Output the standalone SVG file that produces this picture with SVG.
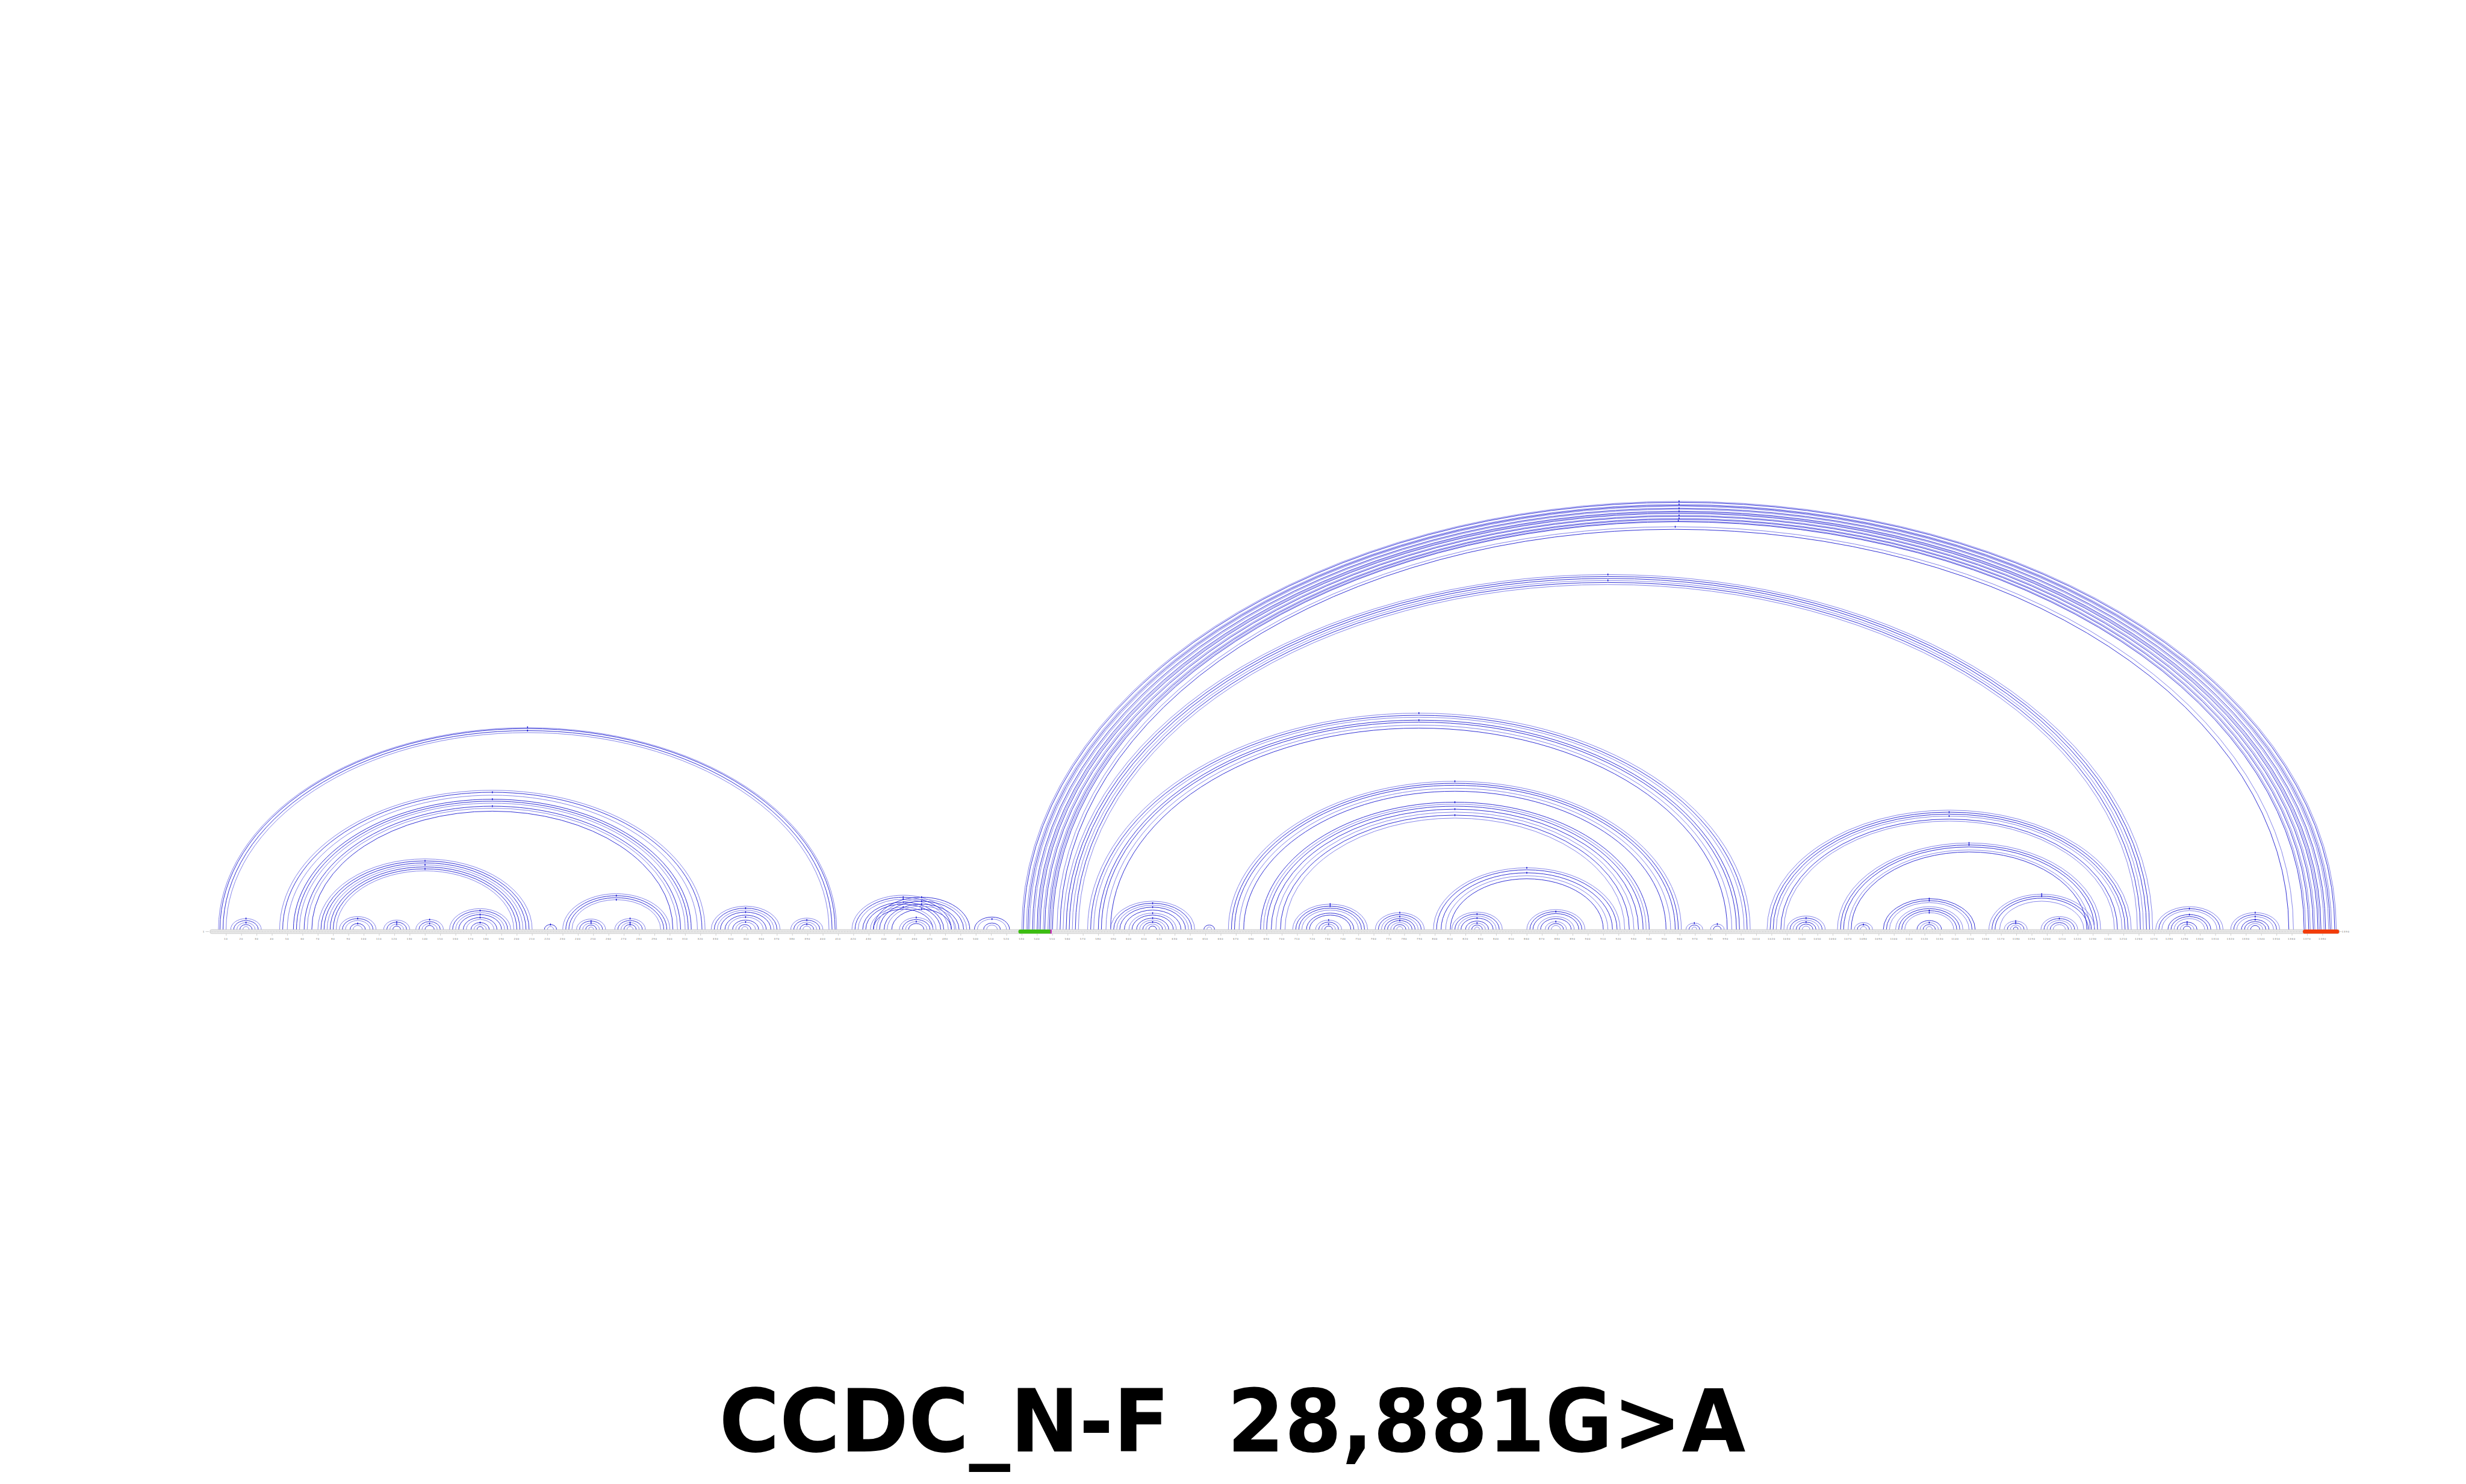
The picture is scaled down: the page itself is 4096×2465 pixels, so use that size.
<svg xmlns="http://www.w3.org/2000/svg" width="4096" height="2465" viewBox="0 0 4096 2465">
<style>
.d{fill:none;stroke:#2f2fd4;stroke-width:1;vector-effect:non-scaling-stroke}
.l{fill:none;stroke:#8585ea;stroke-width:1;vector-effect:non-scaling-stroke}
.m{fill:none;stroke:#1010d0;stroke-width:1.4;vector-effect:non-scaling-stroke}
.t{font-family:"Liberation Sans",Arial,sans-serif;font-size:3.8px;fill:#555;text-anchor:middle;letter-spacing:1.1px}
.title{font-family:"DejaVu Sans","Liberation Sans",sans-serif;font-weight:bold;font-size:144px;fill:#000}
</style>
<defs>
<pattern id="nt" patternUnits="userSpaceOnUse" x="351.39" y="1544" width="2.5417" height="6.8">
<circle cx="1.27" cy="3.4" r="3.1" fill="none" stroke="#c2c2c2" stroke-width="0.35"/>
<line x1="0.9" y1="2.2" x2="1.6" y2="4.6" stroke="#8a8a8a" stroke-width="0.35"/>
</pattern>
<pattern id="tk" patternUnits="userSpaceOnUse" x="375.29" y="1551" width="25.417" height="4">
<rect x="0" y="0" width="0.5" height="4" fill="#a0a0a0"/>
</pattern>
</defs>
<rect x="0" y="0" width="4096" height="2465" fill="#fff"/>
<g id="connectors" transform="translate(350.12 1544) scale(2.5417 1)">
<g id="h-L1">
<path class="l" d="M5 0A202 335.4 0 0 1 409 0"/>
<path class="d" d="M6 0A201 333.8 0 0 1 408 0"/>
<path class="d" d="M8 0A199 330.4 0 0 1 406 0"/>
<path class="l" d="M10 0A197 327.1 0 0 1 404 0"/>
<path class="m" d="M207 -337.4v3M207 -331.9v3"/>
</g>
<g id="h-1">
<path class="l" d="M13 0A10 18.2 0 0 1 33 0"/>
<path class="d" d="M15 0A8 14.9 0 0 1 31 0"/>
<path class="l" d="M17 0A6 11.6 0 0 1 29 0"/>
<path class="d" d="M19 0A4 8.3 0 0 1 27 0"/>
<path class="l" d="M21 0A2 5 0 0 1 25 0"/>
<path class="m" d="M23 -19.7v3M23 -13.1v3"/>
</g>
<g id="h-L2">
<path class="l" d="M45 0A139 231.3 0 0 1 323 0"/>
<path class="d" d="M47 0A137 228 0 0 1 321 0"/>
<path class="l" d="M50 0A134 223.1 0 0 1 318 0"/>
<path class="d" d="M54 0A130 216.5 0 0 1 314 0"/>
<path class="d" d="M56 0A128 213.2 0 0 1 312 0"/>
<path class="l" d="M58 0A126 209.9 0 0 1 310 0"/>
<path class="d" d="M61 0A123 204.9 0 0 1 307 0"/>
<path class="l" d="M63 0A121 201.6 0 0 1 305 0"/>
<path class="d" d="M66 0A118 196.6 0 0 1 302 0"/>
<path class="m" d="M184 -229.5v3M184 -218v3M184 -206.4v3"/>
</g>
<g id="h-L3">
<path class="l" d="M70 0A70 117.3 0 0 1 210 0"/>
<path class="d" d="M72 0A68 114 0 0 1 208 0"/>
<path class="d" d="M74 0A66 110.7 0 0 1 206 0"/>
<path class="l" d="M76 0A64 107.4 0 0 1 204 0"/>
<path class="d" d="M78 0A62 104.1 0 0 1 202 0"/>
<path class="d" d="M80 0A60 100.8 0 0 1 200 0"/>
<path class="l" d="M82 0A58 97.5 0 0 1 198 0"/>
<path class="m" d="M140 -115.5v3M140 -108.9v3M140 -102.3v3"/>
</g>
<g id="h-2">
<path class="l" d="M84 0A12 21.5 0 0 1 108 0"/>
<path class="d" d="M86 0A10 18.2 0 0 1 106 0"/>
<path class="l" d="M88 0A8 14.9 0 0 1 104 0"/>
<path class="d" d="M91 0A5 10 0 0 1 101 0"/>
<path class="l" d="M93 0A3 6.7 0 0 1 99 0"/>
<path class="m" d="M96 -19.7v3M96 -11.5v3"/>
</g>
<g id="h-3">
<path class="l" d="M113 0A8.5 15.7 0 0 1 130 0"/>
<path class="d" d="M115 0A6.5 12.4 0 0 1 128 0"/>
<path class="l" d="M117 0A4.5 9.1 0 0 1 126 0"/>
<path class="d" d="M119 0A2.5 5.8 0 0 1 124 0"/>
<path class="m" d="M121.5 -13.9v3M121.5 -10.6v3"/>
</g>
<g id="h-4">
<path class="l" d="M134 0A9 16.6 0 0 1 152 0"/>
<path class="d" d="M136 0A7 13.3 0 0 1 150 0"/>
<path class="l" d="M138 0A5 10 0 0 1 148 0"/>
<path class="d" d="M140 0A3 6.7 0 0 1 146 0"/>
<path class="m" d="M143 -18.1v3M143 -11.5v3"/>
</g>
<g id="h-5">
<path class="l" d="M156 0A20 34.7 0 0 1 196 0"/>
<path class="d" d="M158 0A18 31.4 0 0 1 194 0"/>
<path class="l" d="M160 0A16 28.1 0 0 1 192 0"/>
<path class="d" d="M162 0A14 24.8 0 0 1 190 0"/>
<path class="d" d="M165 0A11 19.9 0 0 1 187 0"/>
<path class="l" d="M167 0A9 16.6 0 0 1 185 0"/>
<path class="d" d="M170 0A6 11.6 0 0 1 182 0"/>
<path class="l" d="M172 0A4 8.3 0 0 1 180 0"/>
<path class="d" d="M174 0A2 5 0 0 1 178 0"/>
<path class="m" d="M176 -32.9v3M176 -26.3v3M176 -21.4v3M176 -13.1v3"/>
</g>
<g id="h-6">
<path class="d" d="M218 0A4 8.3 0 0 1 226 0"/>
<path class="l" d="M220 0A2 5 0 0 1 224 0"/>
<path class="m" d="M222 -9.8v3"/>
</g>
<g id="h-7">
<path class="l" d="M230 0A35 59.5 0 0 1 300 0"/>
<path class="d" d="M232 0A33 56.2 0 0 1 298 0"/>
<path class="d" d="M234 0A31 52.9 0 0 1 296 0"/>
<path class="l" d="M236 0A29 49.6 0 0 1 294 0"/>
<path class="m" d="M265 -57.7v3M265 -51.1v3"/>
</g>
<g id="h-8">
<path class="l" d="M239 0A9.5 17.4 0 0 1 258 0"/>
<path class="d" d="M241 0A7.5 14.1 0 0 1 256 0"/>
<path class="l" d="M243 0A5.5 10.8 0 0 1 254 0"/>
<path class="d" d="M245 0A3.5 7.5 0 0 1 252 0"/>
<path class="l" d="M247 0A1.5 4.2 0 0 1 250 0"/>
<path class="m" d="M248.5 -15.6v3M248.5 -12.3v3"/>
</g>
<g id="h-9">
<path class="l" d="M264 0A10 18.2 0 0 1 284 0"/>
<path class="d" d="M266 0A8 14.9 0 0 1 282 0"/>
<path class="l" d="M268 0A6 11.6 0 0 1 280 0"/>
<path class="d" d="M270 0A4 8.3 0 0 1 278 0"/>
<path class="l" d="M272 0A2 5 0 0 1 276 0"/>
<path class="m" d="M274 -19.7v3M274 -13.1v3M274 -9.8v3"/>
</g>
<g id="h-10">
<path class="l" d="M327 0A22.5 38.9 0 0 1 372 0"/>
<path class="d" d="M329 0A20.5 35.6 0 0 1 370 0"/>
<path class="l" d="M331 0A18.5 32.3 0 0 1 368 0"/>
<path class="d" d="M333 0A16.5 29 0 0 1 366 0"/>
<path class="d" d="M336 0A13.5 24 0 0 1 363 0"/>
<path class="l" d="M338 0A11.5 20.7 0 0 1 361 0"/>
<path class="d" d="M341 0A8.5 15.7 0 0 1 358 0"/>
<path class="l" d="M343 0A6.5 12.4 0 0 1 356 0"/>
<path class="d" d="M345 0A4 8.3 0 0 1 353 0"/>
<path class="l" d="M347 0A2 5 0 0 1 351 0"/>
<path class="m" d="M349.5 -37.1v3M349.5 -30.5v3M349.5 -22.2v3M349.5 -13.9v3"/>
</g>
<g id="h-11">
<path class="l" d="M379 0A10.5 19 0 0 1 400 0"/>
<path class="d" d="M381 0A8.5 15.7 0 0 1 398 0"/>
<path class="l" d="M383 0A6.5 12.4 0 0 1 396 0"/>
<path class="d" d="M385 0A4.5 9.1 0 0 1 394 0"/>
<path class="l" d="M387 0A2.5 5.8 0 0 1 392 0"/>
<path class="m" d="M389.5 -17.2v3M389.5 -10.6v3"/>
</g>
<g id="h-P1">
<path class="l" d="M419 0A33.5 57 0 0 1 486 0"/>
<path class="d" d="M421 0A31.5 53.7 0 0 1 484 0"/>
<path class="l" d="M423 0A29.5 50.4 0 0 1 482 0"/>
<path class="d" d="M426 0A26.5 45.5 0 0 1 479 0"/>
<path class="d" d="M428 0A24.5 42.2 0 0 1 477 0"/>
<path class="l" d="M431 0A21.5 37.2 0 0 1 474 0"/>
<path class="d" d="M433 0A19.5 33.9 0 0 1 472 0"/>
<path class="m" d="M452.5 -55.2v3M452.5 -51.9v3M452.5 -47v3M452.5 -38.7v3"/>
</g>
<g id="h-P2">
<path class="d" d="M433 0A31.5 53.7 0 0 1 496 0"/>
<path class="l" d="M435 0A29.5 50.4 0 0 1 494 0"/>
<path class="d" d="M437 0A27.5 47.1 0 0 1 492 0"/>
<path class="d" d="M440 0A24.5 42.2 0 0 1 489 0"/>
<path class="l" d="M442 0A22.5 38.9 0 0 1 487 0"/>
<path class="d" d="M445 0A19.5 33.9 0 0 1 484 0"/>
<path class="m" d="M464.5 -55.2v3M464.5 -48.6v3M464.5 -43.7v3M464.5 -35.4v3"/>
</g>
<g id="h-12">
<path class="l" d="M450 0A11 19.9 0 0 1 472 0"/>
<path class="d" d="M452 0A9 16.6 0 0 1 470 0"/>
<path class="l" d="M454 0A7 13.3 0 0 1 468 0"/>
<path class="d" d="M456 0A5 10 0 0 1 466 0"/>
<path class="m" d="M461 -21.4v3M461 -14.8v3"/>
</g>
<g id="h-13">
<path class="d" d="M499 0A11.5 20.7 0 0 1 522 0"/>
<path class="l" d="M501 0A9.5 17.4 0 0 1 520 0"/>
<path class="d" d="M505 0A5.5 10.8 0 0 1 516 0"/>
<path class="l" d="M507 0A3.5 7.5 0 0 1 514 0"/>
<path class="m" d="M510.5 -18.9v3"/>
</g>
<g id="h-A">
<path class="l" d="M530 0A429.5 711.2 0 0 1 1389 0"/>
<path class="d" d="M531 0A428.5 709.6 0 0 1 1388 0"/>
<path class="l" d="M533 0A426.5 706.3 0 0 1 1386 0"/>
<path class="d" d="M534 0A425.5 704.6 0 0 1 1385 0"/>
<path class="l" d="M535 0A424.5 703 0 0 1 1384 0"/>
<path class="d" d="M537 0A422.5 699.7 0 0 1 1382 0"/>
<path class="l" d="M538 0A421.5 698 0 0 1 1381 0"/>
<path class="d" d="M540 0A419.5 694.7 0 0 1 1379 0"/>
<path class="l" d="M541 0A418.5 693.1 0 0 1 1378 0"/>
<path class="d" d="M542 0A417.5 691.4 0 0 1 1377 0"/>
<path class="l" d="M544 0A415.5 688.1 0 0 1 1375 0"/>
<path class="d" d="M545 0A414.5 686.5 0 0 1 1374 0"/>
<path class="l" d="M547 0A412.5 683.2 0 0 1 1372 0"/>
<path class="d" d="M548 0A411.5 681.5 0 0 1 1371 0"/>
<path class="l" d="M549 0A410 679 0 0 1 1369 0"/>
<path class="d" d="M550 0A409 677.4 0 0 1 1368 0"/>
<path class="l" d="M553 0A404 669.1 0 0 1 1361 0"/>
<path class="d" d="M555 0A401.5 665 0 0 1 1358 0"/>
<path class="m" d="M959.5 -712.7v3M959.5 -707.8v3M959.5 -701.2v3M959.5 -696.2v3M959.5 -689.6v3M959.5 -684.7v3M959 -680.5v3M957 -670.6v3"/>
</g>
<g id="h-B">
<path class="l" d="M557 0A356 589.8 0 0 1 1269 0"/>
<path class="d" d="M559 0A354 586.5 0 0 1 1267 0"/>
<path class="d" d="M561 0A352 583.2 0 0 1 1265 0"/>
<path class="l" d="M563 0A350 579.9 0 0 1 1263 0"/>
<path class="d" d="M565 0A348 576.6 0 0 1 1261 0"/>
<path class="l" d="M567 0A346 573.3 0 0 1 1259 0"/>
<path class="m" d="M913 -591.3v3M913 -581.4v3"/>
</g>
<g id="h-C">
<path class="l" d="M573 0A216.5 359.4 0 0 1 1006 0"/>
<path class="d" d="M575 0A214.5 356.1 0 0 1 1004 0"/>
<path class="l" d="M577 0A212.5 352.8 0 0 1 1002 0"/>
<path class="d" d="M580 0A209.5 347.8 0 0 1 999 0"/>
<path class="d" d="M582 0A207.5 344.5 0 0 1 997 0"/>
<path class="l" d="M585 0A204.5 339.5 0 0 1 994 0"/>
<path class="d" d="M588 0A201.5 334.6 0 0 1 991 0"/>
<path class="m" d="M789.5 -360.9v3M789.5 -349.3v3"/>
</g>
<g id="h-D">
<path class="l" d="M665 0A148 246.2 0 0 1 961 0"/>
<path class="d" d="M667 0A146 242.9 0 0 1 959 0"/>
<path class="d" d="M669 0A144 239.6 0 0 1 957 0"/>
<path class="l" d="M672 0A141 234.6 0 0 1 954 0"/>
<path class="d" d="M675 0A138 229.7 0 0 1 951 0"/>
<path class="d" d="M686 0A127 211.5 0 0 1 940 0"/>
<path class="l" d="M688 0A125 208.2 0 0 1 938 0"/>
<path class="d" d="M690 0A123 204.9 0 0 1 936 0"/>
<path class="d" d="M693 0A120 199.9 0 0 1 933 0"/>
<path class="l" d="M696 0A117 195 0 0 1 930 0"/>
<path class="d" d="M699 0A114 190 0 0 1 927 0"/>
<path class="l" d="M702 0A111 185.1 0 0 1 924 0"/>
<path class="m" d="M813 -247.7v3M813 -213v3M813 -201.4v3M813 -191.5v3"/>
</g>
<g id="h-E">
<path class="l" d="M799 0A61 102.5 0 0 1 921 0"/>
<path class="d" d="M801 0A59 99.2 0 0 1 919 0"/>
<path class="d" d="M804 0A56 94.2 0 0 1 916 0"/>
<path class="l" d="M807 0A53 89.3 0 0 1 913 0"/>
<path class="d" d="M810 0A50 84.3 0 0 1 910 0"/>
<path class="m" d="M860 -104v3M860 -95.7v3"/>
</g>
<g id="h-14">
<path class="l" d="M588 0A27.5 47.1 0 0 1 643 0"/>
<path class="d" d="M590 0A25.5 43.8 0 0 1 641 0"/>
<path class="l" d="M592 0A23.5 40.5 0 0 1 639 0"/>
<path class="d" d="M594 0A21.5 37.2 0 0 1 637 0"/>
<path class="d" d="M597 0A18.5 32.3 0 0 1 634 0"/>
<path class="l" d="M600 0A15.5 27.3 0 0 1 631 0"/>
<path class="d" d="M602 0A13.5 24 0 0 1 629 0"/>
<path class="d" d="M605 0A10.5 19 0 0 1 626 0"/>
<path class="l" d="M607 0A8.5 15.7 0 0 1 624 0"/>
<path class="d" d="M609 0A6.5 12.4 0 0 1 622 0"/>
<path class="l" d="M611 0A4.5 9.1 0 0 1 620 0"/>
<path class="d" d="M613 0A2.5 5.8 0 0 1 618 0"/>
<path class="m" d="M615.5 -45.3v3M615.5 -38.7v3M615.5 -28.8v3M615.5 -20.5v3M615.5 -13.9v3"/>
</g>
<g id="h-15">
<path class="d" d="M649 0A3.5 7.5 0 0 1 656 0"/>
<path class="l" d="M651 0A1.5 4.2 0 0 1 654 0"/>
</g>
<g id="h-16">
<path class="l" d="M707 0A24.5 42.2 0 0 1 756 0"/>
<path class="d" d="M709 0A22.5 38.9 0 0 1 754 0"/>
<path class="d" d="M711 0A20.5 35.6 0 0 1 752 0"/>
<path class="l" d="M713 0A18.5 32.3 0 0 1 750 0"/>
<path class="d" d="M716 0A15.5 27.3 0 0 1 747 0"/>
<path class="d" d="M718 0A13.5 24 0 0 1 745 0"/>
<path class="l" d="M722 0A8.5 15.7 0 0 1 739 0"/>
<path class="d" d="M724 0A6.5 12.4 0 0 1 737 0"/>
<path class="l" d="M726 0A4.5 9.1 0 0 1 735 0"/>
<path class="d" d="M728 0A2.5 5.8 0 0 1 733 0"/>
<path class="m" d="M731.5 -43.7v3M731.5 -40.4v3M730.5 -17.2v3M730.5 -10.6v3"/>
</g>
<g id="h-17">
<path class="l" d="M761 0A16 28.1 0 0 1 793 0"/>
<path class="d" d="M763 0A14 24.8 0 0 1 791 0"/>
<path class="l" d="M765 0A12 21.5 0 0 1 789 0"/>
<path class="d" d="M767 0A10 18.2 0 0 1 787 0"/>
<path class="d" d="M769 0A8 14.9 0 0 1 785 0"/>
<path class="l" d="M771 0A6 11.6 0 0 1 783 0"/>
<path class="d" d="M773 0A4 8.3 0 0 1 781 0"/>
<path class="l" d="M775 0A2 5 0 0 1 779 0"/>
<path class="m" d="M777 -29.6v3M777 -23v3M777 -16.4v3"/>
</g>
<g id="h-18">
<path class="l" d="M811 0A16.5 29 0 0 1 844 0"/>
<path class="d" d="M813 0A14.5 25.7 0 0 1 842 0"/>
<path class="l" d="M815 0A12.5 22.4 0 0 1 840 0"/>
<path class="d" d="M817 0A10.5 19 0 0 1 838 0"/>
<path class="d" d="M820 0A7.5 14.1 0 0 1 835 0"/>
<path class="l" d="M822 0A5.5 10.8 0 0 1 833 0"/>
<path class="d" d="M824 0A3.5 7.5 0 0 1 831 0"/>
<path class="l" d="M826 0A1.5 4.2 0 0 1 829 0"/>
<path class="m" d="M827.5 -27.2v3M827.5 -20.5v3M827.5 -12.3v3"/>
</g>
<g id="h-19">
<path class="l" d="M860 0A19 33.1 0 0 1 898 0"/>
<path class="d" d="M862 0A17 29.8 0 0 1 896 0"/>
<path class="d" d="M864 0A15 26.5 0 0 1 894 0"/>
<path class="l" d="M867 0A12 21.5 0 0 1 891 0"/>
<path class="d" d="M869 0A10 18.2 0 0 1 889 0"/>
<path class="l" d="M872 0A7 13.3 0 0 1 886 0"/>
<path class="d" d="M874 0A5 10 0 0 1 884 0"/>
<path class="l" d="M876 0A3 6.7 0 0 1 882 0"/>
<path class="m" d="M879 -31.3v3M879 -14.8v3"/>
</g>
<g id="h-20">
<path class="l" d="M964 0A5.5 10.8 0 0 1 975 0"/>
<path class="d" d="M966 0A3.5 7.5 0 0 1 973 0"/>
<path class="l" d="M968 0A1.5 4.2 0 0 1 971 0"/>
<path class="m" d="M969.5 -12.3v3"/>
</g>
<g id="h-21">
<path class="l" d="M980 0A4.5 9.1 0 0 1 989 0"/>
<path class="d" d="M982 0A2.5 5.8 0 0 1 987 0"/>
<path class="m" d="M984.5 -10.6v3"/>
</g>
<g id="h-F">
<path class="l" d="M1017 0A119 198.3 0 0 1 1255 0"/>
<path class="d" d="M1019 0A117 195 0 0 1 1253 0"/>
<path class="d" d="M1021 0A115 191.7 0 0 1 1251 0"/>
<path class="l" d="M1023 0A113 188.4 0 0 1 1249 0"/>
<path class="d" d="M1026 0A110 183.4 0 0 1 1246 0"/>
<path class="l" d="M1028 0A108 180.1 0 0 1 1244 0"/>
<path class="m" d="M1136 -196.5v3M1136 -189.9v3"/>
</g>
<g id="h-22">
<path class="l" d="M1030 0A12.5 22.4 0 0 1 1055 0"/>
<path class="d" d="M1032 0A10.5 19 0 0 1 1053 0"/>
<path class="l" d="M1034 0A8.5 15.7 0 0 1 1051 0"/>
<path class="d" d="M1036 0A6.5 12.4 0 0 1 1049 0"/>
<path class="d" d="M1038 0A4.5 9.1 0 0 1 1047 0"/>
<path class="l" d="M1040 0A2.5 5.8 0 0 1 1045 0"/>
<path class="m" d="M1042.5 -20.5v3M1042.5 -13.9v3"/>
</g>
<g id="h-G">
<path class="l" d="M1063 0A86 143.8 0 0 1 1235 0"/>
<path class="d" d="M1065 0A84 140.5 0 0 1 1233 0"/>
<path class="d" d="M1067 0A82 137.2 0 0 1 1231 0"/>
<path class="l" d="M1070 0A79 132.2 0 0 1 1228 0"/>
<path class="d" d="M1072 0A77 128.9 0 0 1 1226 0"/>
<path class="m" d="M1149 -145.3v3M1149 -142v3"/>
</g>
<g id="h-23">
<path class="l" d="M1074 0A6 11.6 0 0 1 1086 0"/>
<path class="d" d="M1076 0A4 8.3 0 0 1 1084 0"/>
<path class="l" d="M1078 0A2 5 0 0 1 1082 0"/>
<path class="m" d="M1080 -9.8v3"/>
</g>
<g id="h-24">
<path class="d" d="M1093 0A30 51.3 0 0 1 1153 0"/>
<path class="d" d="M1095 0A28 48 0 0 1 1151 0"/>
<path class="l" d="M1097 0A26 44.7 0 0 1 1149 0"/>
<path class="l" d="M1101 0A22 38 0 0 1 1145 0"/>
<path class="d" d="M1103 0A20 34.7 0 0 1 1143 0"/>
<path class="d" d="M1105 0A18 31.4 0 0 1 1141 0"/>
<path class="l" d="M1107 0A16 28.1 0 0 1 1139 0"/>
<path class="d" d="M1115 0A8 14.9 0 0 1 1131 0"/>
<path class="l" d="M1117 0A6 11.6 0 0 1 1129 0"/>
<path class="d" d="M1119 0A4 8.3 0 0 1 1127 0"/>
<path class="l" d="M1121 0A2 5 0 0 1 1125 0"/>
<path class="m" d="M1123 -52.8v3M1123 -49.5v3M1123 -32.9v3M1123 -29.6v3M1123 -13.1v3"/>
</g>
<g id="h-25">
<path class="l" d="M1162 0A34.5 58.7 0 0 1 1231 0"/>
<path class="d" d="M1164 0A32.5 55.4 0 0 1 1229 0"/>
<path class="d" d="M1166 0A30.5 52.1 0 0 1 1227 0"/>
<path class="l" d="M1169 0A27.5 47.1 0 0 1 1224 0"/>
<path class="l" d="M1172 0A7.5 14.1 0 0 1 1187 0"/>
<path class="d" d="M1174 0A5.5 10.8 0 0 1 1185 0"/>
<path class="l" d="M1176 0A3.5 7.5 0 0 1 1183 0"/>
<path class="d" d="M1178 0A1.5 4.2 0 0 1 1181 0"/>
<path class="l" d="M1196 0A12 21.5 0 0 1 1220 0"/>
<path class="d" d="M1198 0A10 18.2 0 0 1 1218 0"/>
<path class="l" d="M1200 0A8 14.9 0 0 1 1216 0"/>
<path class="d" d="M1202 0A6 11.6 0 0 1 1214 0"/>
<path class="l" d="M1204 0A4 8.3 0 0 1 1212 0"/>
<path class="m" d="M1196.5 -60.2v3M1196.5 -56.9v3M1179.5 -15.6v3M1179.5 -12.3v3M1208 -19.7v3"/>
</g>
<g id="h-26">
<path class="l" d="M1271 0A22 38 0 0 1 1315 0"/>
<path class="d" d="M1273 0A20 34.7 0 0 1 1313 0"/>
<path class="l" d="M1275 0A18 31.4 0 0 1 1311 0"/>
<path class="d" d="M1279 0A14 24.8 0 0 1 1307 0"/>
<path class="d" d="M1281 0A12 21.5 0 0 1 1305 0"/>
<path class="l" d="M1283 0A10 18.2 0 0 1 1303 0"/>
<path class="d" d="M1285 0A6.5 12.4 0 0 1 1298 0"/>
<path class="l" d="M1287 0A4.5 9.1 0 0 1 1296 0"/>
<path class="d" d="M1289 0A2.5 5.8 0 0 1 1294 0"/>
<path class="m" d="M1293 -36.2v3M1293 -26.3v3M1291.5 -13.9v3M1291.5 -10.6v3"/>
</g>
<g id="h-27">
<path class="l" d="M1320 0A16 28.1 0 0 1 1352 0"/>
<path class="d" d="M1322 0A14 24.8 0 0 1 1350 0"/>
<path class="l" d="M1324 0A12 21.5 0 0 1 1348 0"/>
<path class="d" d="M1327 0A9 16.6 0 0 1 1345 0"/>
<path class="d" d="M1329 0A7 13.3 0 0 1 1343 0"/>
<path class="l" d="M1331 0A5 10 0 0 1 1341 0"/>
<path class="d" d="M1333 0A3 6.7 0 0 1 1339 0"/>
<path class="m" d="M1336 -29.6v3M1336 -23v3M1336 -18.1v3"/>
</g>
</g>
<g id="sequence">
<rect x="348.5" y="1544" width="3537.7" height="6.8" rx="3.4" fill="#ececec" stroke="#b4b4b4" stroke-width="0.5"/>
<rect x="348.5" y="1544" width="3537.7" height="6.8" rx="3.4" fill="url(#nt)"/>
<rect x="1691.5" y="1544" width="55" height="6.8" rx="3.4" fill="#3cbd12"/>
<rect x="1744.6" y="1544" width="2.2" height="6.8" fill="#d312c8"/>
<rect x="3825" y="1544" width="60.2" height="6.8" rx="3.4" fill="#f23c0a"/>
<rect x="370" y="1551" width="3492" height="3.3" fill="url(#tk)"/>
<line x1="341.5" y1="1547.4" x2="347" y2="1547.4" stroke="#999" stroke-width="0.5"/>
<text x="338" y="1548.8" class="t" style="letter-spacing:0">1</text>
<line x1="3886.5" y1="1547.4" x2="3889.5" y2="1547.4" stroke="#999" stroke-width="0.5"/>
<text x="3896.5" y="1548.8" class="t">1390</text>
</g>
<g id="axis-labels" class="t">
<text x="375.5" y="1561.3">10</text><text x="401" y="1561.3">20</text><text x="426.4" y="1561.3">30</text><text x="451.8" y="1561.3">40</text><text x="477.2" y="1561.3">50</text><text x="502.6" y="1561.3">60</text><text x="528" y="1561.3">70</text><text x="553.5" y="1561.3">80</text><text x="578.9" y="1561.3">90</text><text x="604.3" y="1561.3">100</text>
<text x="629.7" y="1561.3">110</text><text x="655.1" y="1561.3">120</text><text x="680.5" y="1561.3">130</text><text x="706" y="1561.3">140</text><text x="731.4" y="1561.3">150</text><text x="756.8" y="1561.3">160</text><text x="782.2" y="1561.3">170</text><text x="807.6" y="1561.3">180</text><text x="833" y="1561.3">190</text><text x="858.5" y="1561.3">200</text>
<text x="883.9" y="1561.3">210</text><text x="909.3" y="1561.3">220</text><text x="934.7" y="1561.3">230</text><text x="960.1" y="1561.3">240</text><text x="985.5" y="1561.3">250</text><text x="1011" y="1561.3">260</text><text x="1036.4" y="1561.3">270</text><text x="1061.8" y="1561.3">280</text><text x="1087.2" y="1561.3">290</text><text x="1112.6" y="1561.3">300</text>
<text x="1138" y="1561.3">310</text><text x="1163.5" y="1561.3">320</text><text x="1188.9" y="1561.3">330</text><text x="1214.3" y="1561.3">340</text><text x="1239.7" y="1561.3">350</text><text x="1265.1" y="1561.3">360</text><text x="1290.5" y="1561.3">370</text><text x="1316" y="1561.3">380</text><text x="1341.4" y="1561.3">390</text><text x="1366.8" y="1561.3">400</text>
<text x="1392.2" y="1561.3">410</text><text x="1417.6" y="1561.3">420</text><text x="1443" y="1561.3">430</text><text x="1468.5" y="1561.3">440</text><text x="1493.9" y="1561.3">450</text><text x="1519.3" y="1561.3">460</text><text x="1544.7" y="1561.3">470</text><text x="1570.1" y="1561.3">480</text><text x="1595.6" y="1561.3">490</text><text x="1621" y="1561.3">500</text>
<text x="1646.4" y="1561.3">510</text><text x="1671.8" y="1561.3">520</text><text x="1697.2" y="1561.3">530</text><text x="1722.6" y="1561.3">540</text><text x="1748.1" y="1561.3">550</text><text x="1773.5" y="1561.3">560</text><text x="1798.9" y="1561.3">570</text><text x="1824.3" y="1561.3">580</text><text x="1849.7" y="1561.3">590</text><text x="1875.1" y="1561.3">600</text>
<text x="1900.6" y="1561.3">610</text><text x="1926" y="1561.3">620</text><text x="1951.4" y="1561.3">630</text><text x="1976.8" y="1561.3">640</text><text x="2002.2" y="1561.3">650</text><text x="2027.6" y="1561.3">660</text><text x="2053.1" y="1561.3">670</text><text x="2078.5" y="1561.3">680</text><text x="2103.9" y="1561.3">690</text><text x="2129.3" y="1561.3">700</text>
<text x="2154.7" y="1561.3">710</text><text x="2180.1" y="1561.3">720</text><text x="2205.6" y="1561.3">730</text><text x="2231" y="1561.3">740</text><text x="2256.4" y="1561.3">750</text><text x="2281.8" y="1561.3">760</text><text x="2307.2" y="1561.3">770</text><text x="2332.6" y="1561.3">780</text><text x="2358.1" y="1561.3">790</text><text x="2383.5" y="1561.3">800</text>
<text x="2408.9" y="1561.3">810</text><text x="2434.3" y="1561.3">820</text><text x="2459.7" y="1561.3">830</text><text x="2485.1" y="1561.3">840</text><text x="2510.6" y="1561.3">850</text><text x="2536" y="1561.3">860</text><text x="2561.4" y="1561.3">870</text><text x="2586.8" y="1561.3">880</text><text x="2612.2" y="1561.3">890</text><text x="2637.6" y="1561.3">900</text>
<text x="2663.1" y="1561.3">910</text><text x="2688.5" y="1561.3">920</text><text x="2713.9" y="1561.3">930</text><text x="2739.3" y="1561.3">940</text><text x="2764.7" y="1561.3">950</text><text x="2790.2" y="1561.3">960</text><text x="2815.6" y="1561.3">970</text><text x="2841" y="1561.3">980</text><text x="2866.4" y="1561.3">990</text><text x="2891.8" y="1561.3">1000</text>
<text x="2917.2" y="1561.3">1010</text><text x="2942.7" y="1561.3">1020</text><text x="2968.1" y="1561.3">1030</text><text x="2993.5" y="1561.3">1040</text><text x="3018.9" y="1561.3">1050</text><text x="3044.3" y="1561.3">1060</text><text x="3069.7" y="1561.3">1070</text><text x="3095.2" y="1561.3">1080</text><text x="3120.6" y="1561.3">1090</text><text x="3146" y="1561.3">1100</text>
<text x="3171.4" y="1561.3">1110</text><text x="3196.8" y="1561.3">1120</text><text x="3222.2" y="1561.3">1130</text><text x="3247.7" y="1561.3">1140</text><text x="3273.1" y="1561.3">1150</text><text x="3298.5" y="1561.3">1160</text><text x="3323.9" y="1561.3">1170</text><text x="3349.3" y="1561.3">1180</text><text x="3374.7" y="1561.3">1190</text><text x="3400.2" y="1561.3">1200</text>
<text x="3425.6" y="1561.3">1210</text><text x="3451" y="1561.3">1220</text><text x="3476.4" y="1561.3">1230</text><text x="3501.8" y="1561.3">1240</text><text x="3527.2" y="1561.3">1250</text><text x="3552.7" y="1561.3">1260</text><text x="3578.1" y="1561.3">1270</text><text x="3603.5" y="1561.3">1280</text><text x="3628.9" y="1561.3">1290</text><text x="3654.3" y="1561.3">1300</text>
<text x="3679.7" y="1561.3">1310</text><text x="3705.2" y="1561.3">1320</text><text x="3730.6" y="1561.3">1330</text><text x="3756" y="1561.3">1340</text><text x="3781.4" y="1561.3">1350</text><text x="3806.8" y="1561.3">1360</text><text x="3832.3" y="1561.3">1370</text><text x="3857.7" y="1561.3">1380</text>
</g>
<g id="title">
<text x="2047" y="2411" class="title" text-anchor="middle" textLength="1705" lengthAdjust="spacingAndGlyphs" xml:space="preserve">CCDC_N-F  28,881G&gt;A</text>
</g>
</svg>
